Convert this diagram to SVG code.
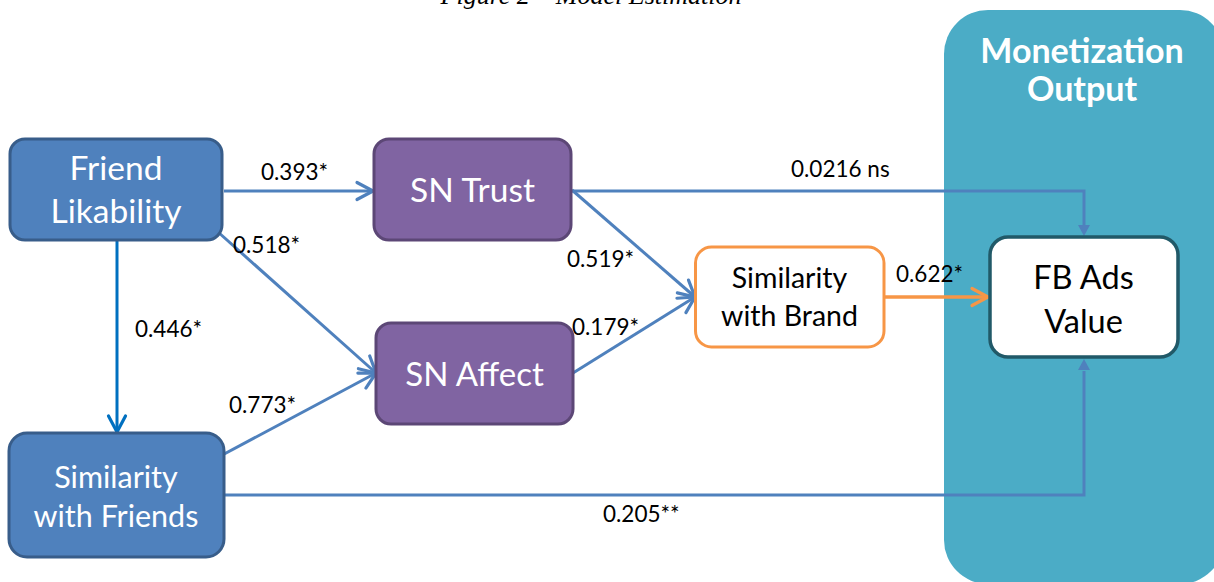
<svg xmlns="http://www.w3.org/2000/svg" width="1214" height="582" viewBox="0 0 1214 582">
<style>
.title{font-family:"Liberation Serif",serif;font-style:italic;font-size:26px;fill:#000}
.lbl{font-family:Lato,"Liberation Sans",sans-serif;font-size:22.5px;fill:#000}
.wt{font-family:Lato,"Liberation Sans",sans-serif;fill:#fff;text-anchor:middle}
.bt{font-family:Lato,"Liberation Sans",sans-serif;fill:#000;text-anchor:middle}
.blue{fill:#4F81BD;stroke:#385D8A;stroke-width:3}
.purple{fill:#8064A2;stroke:#5C4776;stroke-width:3}
.conn{fill:none;stroke:#4F81BD;stroke-width:3}
</style>
<defs>
<marker id="openB" markerUnits="userSpaceOnUse" markerWidth="24" markerHeight="24" viewBox="-20 -12 24 24" refX="0" refY="0" orient="auto">
<path d="M-16,-8.5 L0,0 L-16,8.5" fill="none" stroke="#4F81BD" stroke-width="3.2" stroke-linecap="round" stroke-linejoin="round"/>
</marker>
<marker id="openD" markerUnits="userSpaceOnUse" markerWidth="24" markerHeight="24" viewBox="-20 -12 24 24" refX="0" refY="0" orient="auto">
<path d="M-16,-8.5 L0,0 L-16,8.5" fill="none" stroke="#0070C0" stroke-width="3.2" stroke-linecap="round" stroke-linejoin="round"/>
</marker>
<marker id="openO" markerUnits="userSpaceOnUse" markerWidth="24" markerHeight="24" viewBox="-20 -12 24 24" refX="0" refY="0" orient="auto">
<path d="M-16,-8.5 L0,0 L-16,8.5" fill="none" stroke="#F79646" stroke-width="3.2" stroke-linecap="round" stroke-linejoin="round"/>
</marker>
</defs>
<rect width="1214" height="582" fill="#fff"/>
<text class="title" x="591" y="4" text-anchor="middle">Figure 2 – Model Estimation</text>

<g id="panel-monetization">
<rect x="944" y="10" width="280" height="574" rx="44" fill="#4BACC6"/>
<text class="wt" x="1082" y="63" font-size="34" font-weight="bold">Monetization</text>
<text class="wt" x="1082" y="101" font-size="34" font-weight="bold">Output</text>
</g>

<g id="connectors">
<line class="conn" x1="224" y1="191" x2="373" y2="191" marker-end="url(#openB)"/>
<line class="conn" x1="218" y1="232" x2="376" y2="373" marker-end="url(#openB)"/>
<line x1="117" y1="241" x2="117" y2="432" fill="none" stroke="#0070C0" stroke-width="3" marker-end="url(#openD)"/>
<line class="conn" x1="213" y1="460" x2="376" y2="373" marker-end="url(#openB)"/>
<polyline class="conn" points="224,495 1084,495 1084,371"/>
<path d="M1078,370 L1084,359 L1090,370 Z" fill="#4F81BD"/>
<polyline class="conn" points="572,191 1084,191 1084,225"/>
<path d="M1078,225 L1084,236 L1090,225 Z" fill="#4F81BD"/>
<line class="conn" x1="572" y1="190" x2="695" y2="297" marker-end="url(#openB)"/>
<line class="conn" x1="573" y1="373" x2="695" y2="297" marker-end="url(#openB)"/>
<line x1="885" y1="297" x2="988" y2="297" fill="none" stroke="#F79646" stroke-width="3.5" marker-end="url(#openO)"/>
<text class="lbl" x="261" y="180">0.393*</text>
<text class="lbl" x="233" y="253">0.518*</text>
<text class="lbl" x="135" y="337">0.446*</text>
<text class="lbl" x="229" y="413">0.773*</text>
<text class="lbl" x="791" y="177">0.0216 ns</text>
<text class="lbl" x="567" y="267">0.519*</text>
<text class="lbl" x="572" y="335">0.179*</text>
<text class="lbl" x="896" y="282">0.622*</text>
<text class="lbl" x="603" y="522">0.205**</text>
</g>

<g id="node-friend-likability">
<rect class="blue" x="10" y="139" width="212" height="101" rx="15"/>
<text class="wt" x="116" y="180" font-size="33.5">Friend</text>
<text class="wt" x="116" y="223" font-size="33.5">Likability</text>
</g>

<g id="node-sn-trust">
<rect class="purple" x="374" y="139" width="197" height="101" rx="15"/>
<text class="wt" x="472.5" y="202" font-size="33.5">SN Trust</text>
</g>

<g id="node-sn-affect">
<rect class="purple" x="376" y="323" width="197" height="101" rx="15"/>
<text class="wt" x="474.5" y="386" font-size="33">SN Affect</text>
</g>

<g id="node-similarity-friends">
<rect class="blue" x="9" y="433" width="215" height="124" rx="18"/>
<text class="wt" x="116" y="488" font-size="30.5">Similarity</text>
<text class="wt" x="116" y="527" font-size="30.5">with Friends</text>
</g>

<g id="node-similarity-brand">
<rect x="695.5" y="247" width="188.5" height="100" rx="16" fill="#fff" stroke="#F79646" stroke-width="3"/>
<text class="bt" x="789.5" y="288" font-size="28.5">Similarity</text>
<text class="bt" x="789.5" y="326" font-size="28.5">with Brand</text>
</g>

<g id="node-fb-ads">
<rect x="990" y="237" width="188" height="120" rx="18" fill="#fff" stroke="#215968" stroke-width="3.5"/>
<text class="bt" x="1083.5" y="289" font-size="32.5">FB Ads</text>
<text class="bt" x="1083.5" y="333" font-size="32.5">Value</text>
</g>
</svg>
